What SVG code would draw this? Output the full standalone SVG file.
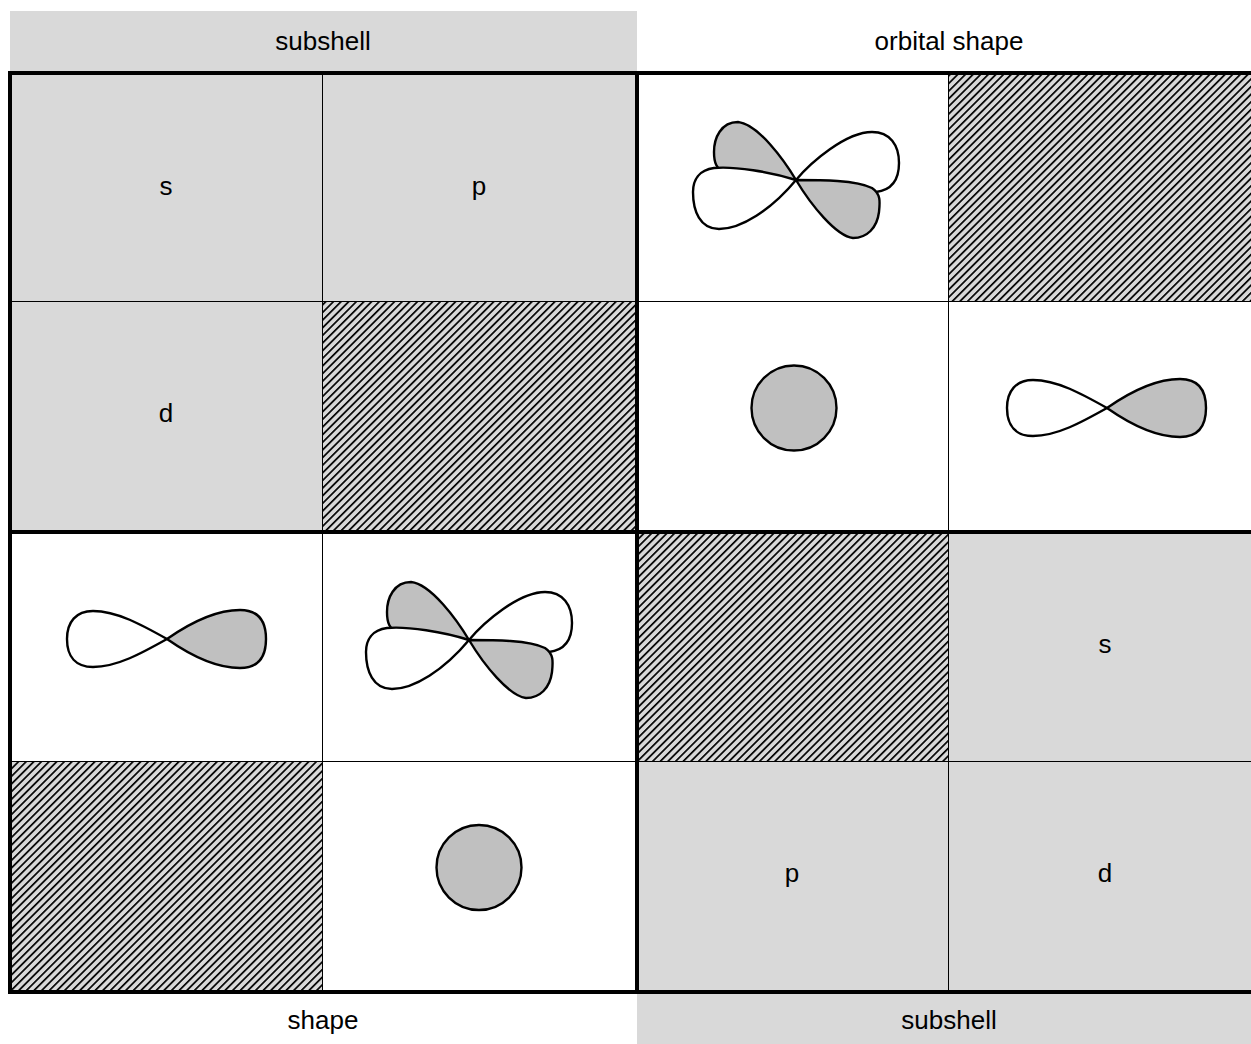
<svg xmlns="http://www.w3.org/2000/svg" xmlns:xlink="http://www.w3.org/1999/xlink" width="1251" height="1044" viewBox="0 0 1251 1044">
<style>
.gray{fill:#d9d9d9}
.white{fill:#ffffff}
.hatch{fill:url(#hatch)}
.lbl{font-family:"Liberation Sans",Arial,sans-serif;font-size:26px;fill:#000;text-anchor:middle;dominant-baseline:central}
.thin{stroke:#000;stroke-width:1;fill:none}
.thick{stroke:#000;stroke-width:4;fill:none}
.lobe{stroke:#000;stroke-width:2.4;stroke-linejoin:round}
.lg{fill:#c0c0c0}
.lw{fill:#ffffff}
</style>
<defs>
<pattern id="hatch" width="5.4" height="5.4" patternUnits="userSpaceOnUse" patternTransform="rotate(-45)">
<rect width="5.4" height="5.4" fill="#d9d9d9"/>
<line x1="0" y1="0" x2="5.4" y2="0" stroke="#000" stroke-width="3.4"/>
</pattern>
<g id="fig8">
<path class="lobe lw" d="M0,0 C-25,-14 -50,-28 -74,-28 C-91,-28 -100,-17 -100,0 C-100,18 -91,28 -74,28 C-50,28 -25,14 0,0 Z"/>
<path class="lobe lg" d="M0,0 C20,-14 48,-29 73,-29 C91,-29 99,-18 99,0 C99,18 91,29 73,29 C48,29 20,14 0,0 Z"/>
</g>
<g id="clover">
<path class="lobe lg" d="M0,0 C-12,-20 -38,-56 -58,-58 C-75,-58 -82,-42 -82,-28 C-82,-18 -80,-10 -70,-8 C-45,-8 -20,-4 0,0 Z"/>
<path class="lobe lw" d="M0,0 C15,-18 50,-48 76,-48 C94,-48 103,-35 103,-17 C103,0 96,10 80,12 C60,14 30,6 0,0 Z"/>
<path class="lobe lw" d="M0,0 C-25,-8 -62,-14 -82,-12 C-97,-10 -103,0 -103,12 C-103,31 -96,49 -77,49 C-55,49 -25,30 0,0 Z"/>
<path class="lobe lg" d="M0,0 C25,0 60,0 76,8 C85,14 84,22 83,32 C81,48 71,58 57,58 C40,56 15,25 0,0 Z"/>
</g>
</defs>
<rect x="0" y="0" width="1251" height="1044" fill="#ffffff"/>

<g id="header-top-left">
<rect class="gray" x="10" y="11" width="627" height="60"/>
<text class="lbl" x="323" y="41">subshell</text>
</g>
<g id="header-top-right">
<text class="lbl" x="949" y="41">orbital shape</text>
</g>
<g id="header-bottom-left">
<text class="lbl" x="323" y="1020">shape</text>
</g>
<g id="header-bottom-right">
<rect class="gray" x="637" y="994" width="625" height="50"/>
<text class="lbl" x="949" y="1020">subshell</text>
</g>

<g id="cell-s-top">
<rect class="gray" x="10" y="73" width="313" height="229"/>
<text class="lbl" x="166" y="186">s</text>
</g>
<g id="cell-p-top">
<rect class="gray" x="323" y="73" width="314" height="229"/>
<text class="lbl" x="479" y="186">p</text>
</g>
<g id="cell-d-top">
<rect class="gray" x="10" y="302" width="313" height="230"/>
<text class="lbl" x="166" y="413">d</text>
</g>
<g id="cell-hatch-1">
<rect class="hatch" x="323" y="302" width="314" height="230"/>
</g>

<g id="cell-clover-top">
<rect class="white" x="637" y="73" width="312" height="229"/>
<use xlink:href="#clover" href="#clover" transform="translate(796,180)"/>
</g>
<g id="cell-hatch-2">
<rect class="hatch" x="949" y="73" width="313" height="229"/>
</g>
<g id="cell-circle-top">
<rect class="white" x="637" y="302" width="312" height="230"/>
<circle class="lobe lg" cx="794" cy="408" r="42.5"/>
</g>
<g id="cell-fig8-top">
<rect class="white" x="949" y="302" width="313" height="230"/>
<use xlink:href="#fig8" href="#fig8" transform="translate(1107,408)"/>
</g>

<g id="cell-fig8-bottom">
<rect class="white" x="10" y="532" width="313" height="230"/>
<use xlink:href="#fig8" href="#fig8" transform="translate(167,639)"/>
</g>
<g id="cell-clover-bottom">
<rect class="white" x="323" y="532" width="314" height="230"/>
<use xlink:href="#clover" href="#clover" transform="translate(469,640)"/>
</g>
<g id="cell-hatch-3">
<rect class="hatch" x="10" y="762" width="313" height="230"/>
</g>
<g id="cell-circle-bottom">
<rect class="white" x="323" y="762" width="314" height="230"/>
<circle class="lobe lg" cx="479" cy="867.5" r="42.5"/>
</g>

<g id="cell-hatch-4">
<rect class="hatch" x="637" y="532" width="312" height="230"/>
</g>
<g id="cell-s-bottom">
<rect class="gray" x="949" y="532" width="313" height="230"/>
<text class="lbl" x="1105" y="644">s</text>
</g>
<g id="cell-p-bottom">
<rect class="gray" x="637" y="762" width="312" height="230"/>
<text class="lbl" x="792" y="873">p</text>
</g>
<g id="cell-d-bottom">
<rect class="gray" x="949" y="762" width="313" height="230"/>
<text class="lbl" x="1105" y="873">d</text>
</g>

<g id="connectors">
<line class="thin" x1="322.5" y1="73" x2="322.5" y2="992"/>
<line class="thin" x1="948.5" y1="73" x2="948.5" y2="992"/>
<line class="thin" x1="10" y1="301.5" x2="1262" y2="301.5"/>
<line class="thin" x1="10" y1="761.5" x2="1262" y2="761.5"/>
<line class="thick" x1="637" y1="73" x2="637" y2="992"/>
<line class="thick" x1="10" y1="532" x2="1262" y2="532"/>
<rect class="thick" x="10" y="73" width="1252" height="919"/>
</g>
</svg>
